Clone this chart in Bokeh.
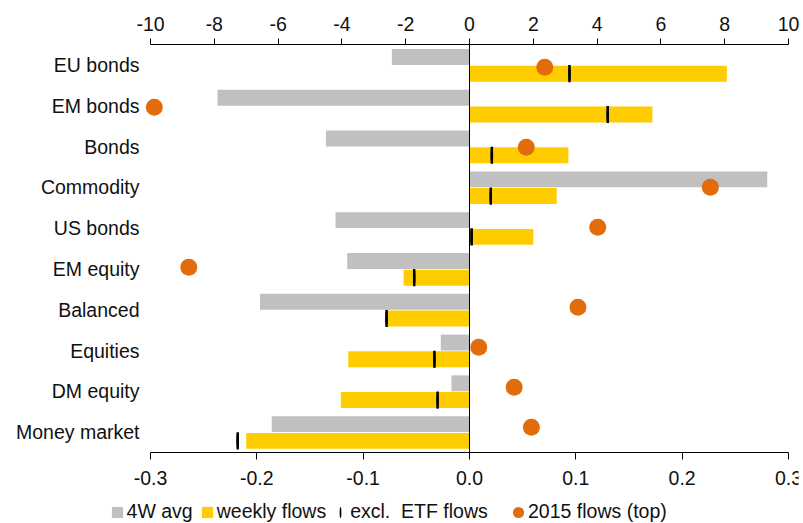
from bokeh.plotting import figure
from bokeh.models import (Range1d, LinearAxis, FixedTicker,
                          Legend, LegendItem, ColumnDataSource)
from bokeh.transform import dodge
from bokeh.embed import file_html
from bokeh.resources import INLINE

categories = ["EU bonds", "EM bonds", "Bonds", "Commodity", "US bonds",
              "EM equity", "Balanced", "Equities", "DM equity", "Money market"]
avg_4w = [-0.073, -0.237, -0.135, 0.280, -0.126, -0.115, -0.197, -0.027, -0.017, -0.186]
weekly_flows = [0.242, 0.172, 0.093, 0.082, 0.060, -0.062, -0.077, -0.114, -0.121, -0.210]
excl_etf = [0.094, 0.130, 0.021, 0.020, 0.002, -0.052, -0.078, -0.033, -0.030, -0.218]
flows_2015 = [2.36, -9.88, 1.78, 7.55, 4.02, -8.80, 3.40, 0.29, 1.40, 1.94]

bottom_ticks = [-0.3, -0.2, -0.1, 0.0, 0.1, 0.2, 0.3]
bottom_labels = ["-0.3", "-0.2", "-0.1", "0.0", "0.1", "0.2", "0.3"]
top_ticks = [-10, -8, -6, -4, -2, 0, 2, 4, 6, 8, 10]
top_labels = ["-10", "-8", "-6", "-4", "-2", "0", "2", "4", "6", "8", "10"]

FONT = "Liberation Sans"
FS = "19.5px"
TXT = "#111111"

# ---- layout (pixels) ----
W, H = 803, 523
FRAME_L, FRAME_R, FRAME_T = 100, 798, 44     # frame box (bottom = canvas bottom)
AX_L, AX_R = 150, 788                         # where the value axes start / end
ROWS_BOTTOM = 452                             # bottom axis line
LABEL_RIGHT = 139                             # right edge of category labels

n = len(categories)
row_px = (ROWS_BOTTOM - FRAME_T) / n
bspan = bottom_ticks[-1] - bottom_ticks[0]
tspan = top_ticks[-1] - top_ticks[0]
px = AX_R - AX_L
x_start = bottom_ticks[0] - (AX_L - FRAME_L) * bspan / px
x_end = bottom_ticks[-1] + (FRAME_R - AX_R) * bspan / px
t_start = top_ticks[0] - (AX_L - FRAME_L) * tspan / px
t_end = top_ticks[-1] + (FRAME_R - AX_R) * tspan / px
y_bottom = -0.5 - (H - ROWS_BOTTOM) / row_px

# dot series sits on its own secondary vertical scale (slightly tighter spacing)
DOT_TOP_PX, DOT_STEP_PX = 66.7, 40.0
d_top = n + (DOT_TOP_PX - FRAME_T) / DOT_STEP_PX
d_bottom = d_top - (H - FRAME_T) / DOT_STEP_PX

pos = [n - 1 - i for i in range(n)]          # category slot, top to bottom
src = ColumnDataSource(dict(
    cat=categories, pos=pos, avg=avg_4w, weekly=weekly_flows, etf=excl_etf,
    f2015=flows_2015, rank=[n - i for i in range(n)],
))

p = figure(width=W, height=H, output_backend="svg", toolbar_location=None,
           x_range=Range1d(x_start, x_end),
           y_range=Range1d(y_bottom, n - 0.5),
           min_border_left=FRAME_L, min_border_right=W - FRAME_R,
           min_border_top=FRAME_T, min_border_bottom=0)
p.extra_x_ranges = {"top": Range1d(t_start, t_end)}
p.extra_y_ranges = {"dots": Range1d(d_bottom, d_top)}
p.outline_line_color = None
p.xgrid.visible = False
p.ygrid.visible = False
p.background_fill_color = "white"
p.border_fill_color = "white"

r_avg = p.hbar(y=dodge("pos", 0.195), left=0, right="avg",
               height=0.39, source=src, fill_color="#C0C0C0", line_color=None)
r_week = p.hbar(y=dodge("pos", -0.215), left=0, right="weekly",
                height=0.39, source=src, fill_color="#FFCC00", line_color=None)

# zero line between the two value axes
p.segment(x0=[0], x1=[0], y0=[-0.5], y1=[n - 0.5], line_color="black", line_width=1)

p.rect(x="etf", y=dodge("pos", -0.215), width=2.5,
       width_units="screen", height=0.42, source=src,
       fill_color="black", line_color=None)
r_etf = p.ellipse(x="etf", y=dodge("pos", -0.215), width=2.5,
                  width_units="screen", height=0.40, source=src,
                  fill_color="black", line_color=None)

r_dot = p.ellipse(x="f2015", y="rank", width=17, height=17, width_units="screen",
                  height_units="screen", source=src, x_range_name="top",
                  y_range_name="dots", fill_color="#E36C0A", line_color=None)

# bottom axis, drawn at the bottom of the category rows
xa = p.xaxis[0]
xa.fixed_location = -0.5
xa.ticker = FixedTicker(ticks=bottom_ticks)
xa.bounds = (bottom_ticks[0], bottom_ticks[-1])
xa.major_label_overrides = {t: l for t, l in zip(bottom_ticks, bottom_labels)}
xa.minor_tick_line_color = None
xa.major_tick_in = 0
xa.major_tick_out = 7
xa.major_label_standoff = 11
xa.axis_line_color = "black"
xa.major_tick_line_color = "black"
xa.major_label_text_font = FONT
xa.major_label_text_font_size = FS
xa.major_label_text_color = TXT

# top axis
ta = LinearAxis(x_range_name="top", ticker=FixedTicker(ticks=top_ticks))
ta.bounds = (top_ticks[0], top_ticks[-1])
ta.major_label_overrides = {t: l for t, l in zip(top_ticks, top_labels)}
ta.minor_tick_line_color = None
ta.major_tick_in = 0
ta.major_tick_out = 6
ta.major_label_standoff = 8
ta.axis_line_color = "black"
ta.major_tick_line_color = "black"
ta.major_label_text_font = FONT
ta.major_label_text_font_size = FS
ta.major_label_text_color = TXT
p.add_layout(ta, "above")

# category axis
ya = p.yaxis[0]
ya.ticker = FixedTicker(ticks=pos)
ya.major_label_overrides = {k: c for k, c in zip(pos, categories)}
ya.axis_line_color = None
ya.major_tick_line_color = None
ya.minor_tick_line_color = None
ya.major_tick_out = 0
ya.major_tick_in = 0
ya.major_label_standoff = FRAME_L - LABEL_RIGHT
ya.major_label_text_font = FONT
ya.major_label_text_font_size = FS
ya.major_label_text_color = TXT

legend = Legend(items=[
    LegendItem(label="4W avg", renderers=[r_avg]),
    LegendItem(label="weekly flows", renderers=[r_week]),
    LegendItem(label="excl.  ETF flows   ", renderers=[r_etf]),
    LegendItem(label="2015 flows (top)", renderers=[r_dot]),
], orientation="horizontal", location=(109.6 - FRAME_L, 0))
legend.padding = 0
legend.margin = 0
legend.spacing = 7
legend.label_standoff = 3
legend.glyph_width = 14
legend.glyph_height = 14
legend.border_line_color = None
legend.background_fill_alpha = 0
legend.label_text_font = FONT
legend.label_text_font_size = FS
legend.label_text_color = TXT
p.add_layout(legend, "center")

open("out.html", "w").write(file_html(p, INLINE))
